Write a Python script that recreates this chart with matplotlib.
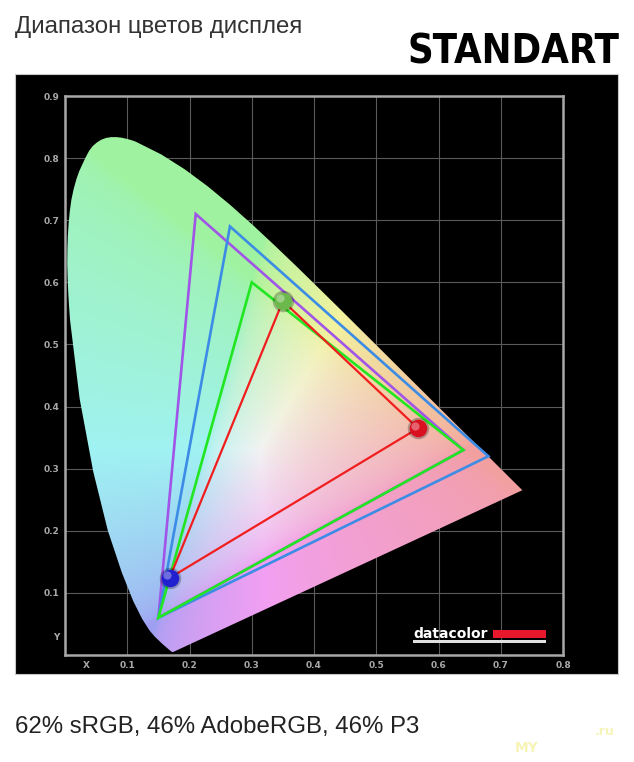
import numpy as np
import matplotlib
matplotlib.use('Agg')
import matplotlib.pyplot as plt
from matplotlib.patches import Polygon, Rectangle
from matplotlib import transforms
from matplotlib import font_manager

# CIE 1931 spectral locus, 380 ... 700 nm (finer steps around the green hump)
locus_x = [0.1741, 0.1733, 0.1714, 0.1644, 0.1566, 0.1440, 0.1355, 0.1241, 0.1096, 0.0913,
           0.0687, 0.0454, 0.0235, 0.0082, 0.0065, 0.0051, 0.0042, 0.0036, 0.0039, 0.0046,
           0.0059, 0.0077, 0.0102, 0.0139, 0.0182, 0.0227, 0.0280, 0.0330, 0.0389, 0.0447,
           0.0515, 0.0585, 0.0660, 0.0743, 0.0828, 0.0913, 0.0997, 0.1078, 0.1142, 0.1547,
           0.1929, 0.2296, 0.2658, 0.3016, 0.3373, 0.3731, 0.4087, 0.4441, 0.4788, 0.5125,
           0.5448, 0.5752, 0.6029, 0.6270, 0.6482, 0.6658, 0.6915, 0.7079, 0.7190, 0.7260, 0.7347]
locus_y = [0.0050, 0.0048, 0.0051, 0.0109, 0.0177, 0.0297, 0.0399, 0.0578, 0.0868, 0.1327,
           0.2007, 0.2950, 0.4127, 0.5384, 0.5622, 0.5855, 0.6085, 0.6308, 0.6548, 0.6750,
           0.6954, 0.7143, 0.7327, 0.7502, 0.7657, 0.7786, 0.7902, 0.8009, 0.8120, 0.8196,
           0.8254, 0.8297, 0.8325, 0.8338, 0.8338, 0.8328, 0.8309, 0.8286, 0.8262, 0.8059,
           0.7816, 0.7543, 0.7243, 0.6923, 0.6589, 0.6245, 0.5896, 0.5547, 0.5202, 0.4866,
           0.4544, 0.4242, 0.3965, 0.3725, 0.3514, 0.3340, 0.3083, 0.2920, 0.2809, 0.2740, 0.2653]

# gamut triangles (R, G, B)
adobe_x = [0.64, 0.21, 0.15]
adobe_y = [0.33, 0.71, 0.06]
p3_x = [0.68, 0.265, 0.15]
p3_y = [0.32, 0.69, 0.06]
srgb_x = [0.64, 0.30, 0.15]
srgb_y = [0.33, 0.60, 0.06]
disp_x = [0.567, 0.350, 0.168]
disp_y = [0.365, 0.570, 0.124]

x_ticks = [0.035, 0.1, 0.2, 0.3, 0.4, 0.5, 0.6, 0.7, 0.8]
x_labels = ['X', '0.1', '0.2', '0.3', '0.4', '0.5', '0.6', '0.7', '0.8']
y_ticks = [0.03, 0.1, 0.2, 0.3, 0.4, 0.5, 0.6, 0.7, 0.8, 0.9]
y_labels = ['Y', '0.1', '0.2', '0.3', '0.4', '0.5', '0.6', '0.7', '0.8', '0.9']
grid_x = [0.1, 0.2, 0.3, 0.4, 0.5, 0.6, 0.7]
grid_y = [0.1, 0.2, 0.3, 0.4, 0.5, 0.6, 0.7, 0.8]

fig = plt.figure(figsize=(6.34, 7.62), dpi=100)
fig.patch.set_facecolor('white')

# black panel
fig.patches.append(Rectangle((15/634, 1-674/762), 603/634, 600/762, transform=fig.transFigure,
                             facecolor='black', edgecolor='#c8c8c8', linewidth=0.8, zorder=-1))

ax = fig.add_axes([65/634, 1-655/762, 498/634, 559/762])
ax.set_zorder(2)
ax.set_facecolor('black')
ax.set_xlim(0, 0.8)
ax.set_ylim(0, 0.9)

for g in grid_x:
    ax.axvline(g, color='#5a5a5a', lw=0.8, zorder=1)
for g in grid_y:
    ax.axhline(g, color='#5a5a5a', lw=0.8, zorder=1)

# chromaticity colours
gx = np.linspace(0.001, 0.8, 400)
gy = np.linspace(0.001, 0.9, 450)
GX, GY = np.meshgrid(gx, gy)
xyz = np.stack([GX / GY, np.ones_like(GX), (1 - GX - GY) / GY], axis=-1)
M = np.array([[3.2406, -1.5372, -0.4986],
              [-0.9689, 1.8758, 0.0415],
              [0.0557, -0.2040, 1.0570]])
rgb = np.clip(xyz @ M.T, 0, None)
mx = rgb.max(axis=-1, keepdims=True)
mx[mx == 0] = 1
rgb = rgb / mx
rgb = np.where(rgb <= 0.0031308, 12.92 * rgb, 1.055 * rgb ** (1 / 2.4) - 0.055)
rgb = np.clip((0.66 + 0.34 * rgb) * 0.95, 0, 1)

poly = Polygon(np.column_stack([locus_x, locus_y]), closed=True, facecolor='none',
               edgecolor='none', transform=ax.transData)
ax.add_patch(poly)
im = ax.imshow(rgb, extent=(gx[0], gx[-1], gy[0], gy[-1]), origin='lower', aspect='auto',
               interpolation='bilinear', zorder=2)
im.set_clip_path(poly)

lw = 1.9
ax.fill(adobe_x, adobe_y, facecolor='none', edgecolor='#a055e8', lw=lw, zorder=3)
ax.fill(p3_x, p3_y, facecolor='none', edgecolor='#3c8ce6', lw=lw, zorder=3.1)
ax.fill(srgb_x, srgb_y, facecolor='none', edgecolor='#22e622', lw=lw, zorder=3.2)
ax.fill(disp_x, disp_y, facecolor='none', edgecolor='#f01e1e', lw=1.6, zorder=3.3)

# spheres at display primaries
dot_cols = ['#d81020', '#6cb84a', '#2020d0']
hl = transforms.offset_copy(ax.transData, fig=fig, x=-2.5, y=2.5, units='dots')
for i in range(3):
    ax.scatter(disp_x[i], disp_y[i], s=240, color='black', alpha=0.25, lw=0, zorder=4)
    ax.scatter(disp_x[i], disp_y[i], s=160, color=dot_cols[i], lw=0, zorder=4.1)
    ax.scatter(disp_x[i], disp_y[i], s=35, color='white', alpha=0.35, lw=0, zorder=4.2,
               transform=hl)

ax.set_xticks(x_ticks)
ax.set_xticklabels(x_labels)
ax.set_yticks(y_ticks)
ax.set_yticklabels(y_labels)
ax.tick_params(length=0, colors='#a8a8a8', labelsize=6.5, pad=4)
for lab in ax.get_xticklabels() + ax.get_yticklabels():
    lab.set_fontweight('bold')
for sp in ax.spines.values():
    sp.set_color('#a8a8a8')
    sp.set_linewidth(1.8)

# datacolor logo
ax.text(0.699, 0.031, 'datacolor', transform=ax.transAxes, color='white', fontsize=10,
        fontweight='bold', ha='left', va='baseline', zorder=5)
ax.add_patch(Rectangle((0.859, 0.031), 0.107, 0.0145, transform=ax.transAxes,
                       facecolor='#e8182c', edgecolor='none', zorder=5))
ax.add_patch(Rectangle((0.699, 0.022), 0.267, 0.004, transform=ax.transAxes,
                       facecolor='#e0e0e0', edgecolor='none', zorder=5))

fig.text(15/634, 1-33/762, 'Диапазон цветов дисплея', fontsize=17.3, color='#333333',
         family=['Liberation Sans', 'DejaVu Sans'], ha='left', va='baseline')
fig.text(15/634, 1-733/762, '62% sRGB, 46% AdobeRGB, 46% P3', fontsize=17.3, color='#222222',
         family=['Liberation Sans', 'DejaVu Sans'], ha='left', va='baseline')
fig.text(515/634, 1-752/762, 'MY', fontsize=10, color='#f7f4b8', fontweight='bold',
         ha='left', va='baseline')
fig.text(595/634, 1-735/762, '.ru', fontsize=9, color='#f7f4b8', fontweight='bold',
         ha='left', va='baseline')

# big condensed heading: take the narrowest bold face that is installed
cands = [('Liberation Sans Narrow', 'normal'), ('DejaVu Sans', 'condensed'),
         ('Noto Sans', 'extra-condensed'), ('Noto Sans', 'condensed'),
         ('Roboto', 'condensed'), ('Open Sans', 'condensed'), ('DejaVu Sans', 'normal')]
fam, stretch = 'DejaVu Sans', 'normal'
for f, s in cands:
    try:
        fp = font_manager.FontProperties(family=f, weight='bold', stretch=s)
        path = font_manager.findfont(fp, fallback_to_default=False)
    except Exception:
        continue
    if ('ondensed' in path or 'Narrow' in path) or s == 'normal' and f == 'DejaVu Sans':
        fam, stretch = f, s
        break
head = fig.text(620/634, 1-63/762, 'STANDART', fontsize=40, color='black', fontweight='bold',
                family=fam, fontstretch=stretch, ha='right', va='baseline')
fig.canvas.draw()
w = head.get_window_extent().width
head.set_fontsize(min(44, 40 * 212 / w))

fig.savefig('out.png', dpi=100, facecolor='white')
